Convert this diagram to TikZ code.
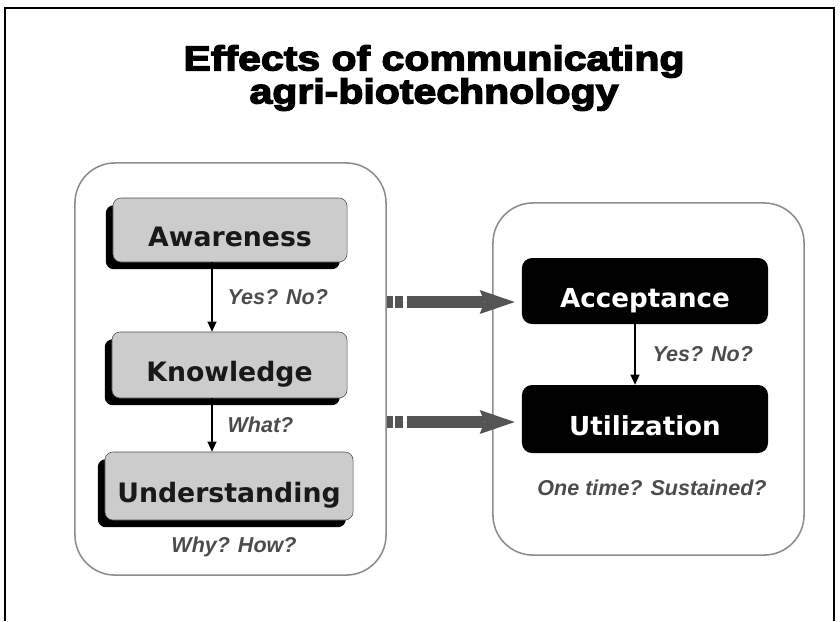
\documentclass[tikz,border=0pt]{standalone}
\usepackage{fontspec}
\setmainfont{Liberation Sans}
\newfontfamily\boxfont{DejaVu Sans}
\newfontfamily\titlefont[FakeStretch=1.18,FakeBold=4]{Liberation Sans}
\usetikzlibrary{arrows.meta,shadows}

\begin{document}
\begin{tikzpicture}[x=0.025cm,y=-0.025cm,
  panel/.style={draw=black!45,line width=1.1pt,rounded corners=1cm},
  graybox/.style={draw=black!70,fill=black!20,rounded corners=0.2cm,
    drop shadow={shadow xshift=-0.18cm,shadow yshift=-0.18cm,opacity=1,fill=black},
    font=\boxfont\bfseries\fontsize{19}{19}\selectfont,text=black!90,
    text height=23pt,text depth=0pt},
  blackbox/.style={fill=black,rounded corners=0.25cm,text=white,
    font=\boxfont\bfseries\fontsize{18.6}{18.6}\selectfont,minimum width=6.15cm,
    text height=23pt,text depth=0pt},
  flow/.style={-{Triangle[length=0.25cm,width=0.22cm]},line width=1.3pt},
  lbl/.style={font=\bfseries\itshape\fontsize{15.3}{15.3}\selectfont,text=black!70},
  bigarrow/.style={-{Stealth[length=0.875cm,width=0.6cm,inset=0.12cm,line width=0pt]},
    line width=0.3cm,draw=black!67,fill=black!67,shorten >=0.175cm,
    dash pattern=on 0.15cm off 0.05cm on 0.2cm off 0.1cm on 8cm}]
\useasboundingbox (0,0) rectangle (840,621);
\draw[line width=0.06cm] (5,621) -- (5,8) -- (834,8) -- (834,621);
\node[font=\titlefont\bfseries\fontsize{24.7}{23.5}\selectfont,align=center] (title) at (434,78)
  {Effects of communicating\\agri-biotechnology};
% the two panels
\node[panel,minimum width=7.775cm,minimum height=10.3cm] (left) at (230.5,369) {};
\node[panel,minimum width=7.775cm,minimum height=8.8cm] (right) at (648.5,379) {};
% left side
\node[graybox,minimum width=5.85cm,minimum height=1.6cm] (aware) at (230,230) {Awareness};
\node[graybox,minimum width=5.875cm,minimum height=1.65cm] (know) at (229.5,365) {Knowledge};
\node[graybox,minimum width=6.2cm,minimum height=1.7cm] (under) at (229,486) {Understanding};
\node[lbl] (why) at (234,547) {Why? How?};
% right side
\node[blackbox,minimum height=1.65cm] (accept) at (645,291) {Acceptance};
\node[blackbox,minimum height=1.7cm] (util) at (645,419) {Utilization};
\node[lbl] (once) at (652,488) {One time? Sustained?};
\coordinate (lx) at (212,0);
\coordinate (rx) at (635,0);
\draw[flow] (aware.south -| lx) -- node[lbl,right=0.25cm] {Yes? No?} (know.north -| lx);
\draw[flow] (know.south -| lx) -- node[lbl,right=0.25cm] {What?} (under.north -| lx);
\draw[flow] (accept.south -| rx) -- node[lbl,right=0.3cm] {Yes? No?} (util.north -| rx);
% thick arrows between the panels
\coordinate (ta) at ([yshift=-0.275cm]accept.west);
\coordinate (tb) at ([yshift=-0.075cm]util.west);
\draw[bigarrow] (left.east |- ta) -- (ta);
\draw[bigarrow] (left.east |- tb) -- (tb);
\end{tikzpicture}
\end{document}
